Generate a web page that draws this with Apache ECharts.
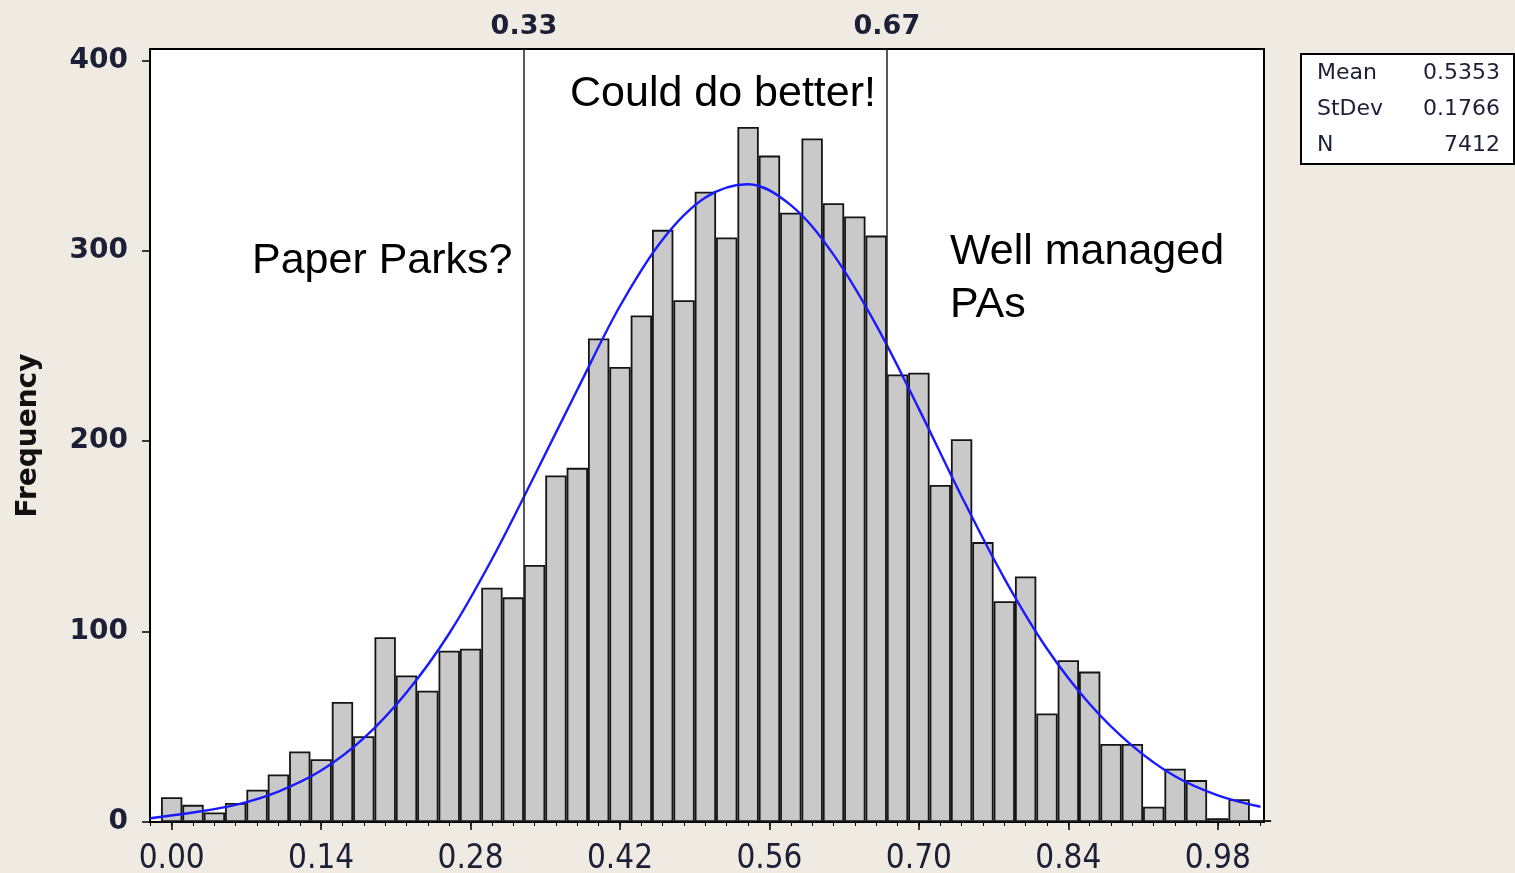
<!DOCTYPE html>
<html>
<head>
<meta charset="utf-8">
<title>Management effectiveness histogram</title>
<script src="https://cdn.jsdelivr.net/npm/echarts@6/dist/echarts.min.js"></script>
<style>
  html, body { margin: 0; padding: 0; background: #efebe3; }
  #chart { width: 1515px; height: 873px; }
</style>
</head>
<body>
<div id="chart"></div>
<script>
/* ---------------- Data ---------------- */
// bin centres (bin width 0.02)
const binCenters = [
  0.00, 0.02, 0.04, 0.06, 0.08, 0.10, 0.12, 0.14, 0.16, 0.18,
  0.20, 0.22, 0.24, 0.26, 0.28, 0.30, 0.32, 0.34, 0.36, 0.38,
  0.40, 0.42, 0.44, 0.46, 0.48, 0.50, 0.52, 0.54, 0.56, 0.58,
  0.60, 0.62, 0.64, 0.66, 0.68, 0.70, 0.72, 0.74, 0.76, 0.78,
  0.80, 0.82, 0.84, 0.86, 0.88, 0.90, 0.92, 0.94, 0.96, 0.98,
  1.00, 1.02
];
const frequencies = [
  13, 9, 5, 10, 17, 25, 37, 33, 63, 45,
  97, 77, 69, 90, 91, 123, 118, 135, 182, 186,
  254, 239, 266, 311, 274, 331, 307, 365, 350, 320,
  359, 325, 318, 308, 235, 236, 177, 201, 147, 116,
  129, 57, 85, 79, 41, 41, 8, 28, 22, 2,
  12, 1
];

// fitted normal curve
const curveX = [
  -0.02, 0.02, 0.06, 0.10, 0.14, 0.18, 0.22, 0.26, 0.30, 0.34,
  0.38, 0.42, 0.46, 0.50, 0.54, 0.58, 0.62, 0.66, 0.70, 0.74,
  0.78, 0.82, 0.86, 0.90, 0.94, 0.98, 1.02
];
const curveY = [
  2, 5, 9, 16, 27, 44, 68, 99, 138, 182,
  227, 271, 306, 328, 335, 324, 298, 261, 217, 171,
  128, 91, 62, 40, 24, 14, 8
];

const bottomTicks = [0.00, 0.14, 0.28, 0.42, 0.56, 0.70, 0.84, 0.98];
const minorTicks = binCenters.concat([-0.02]);
const cutPoints = [0.33, 0.67];
const yTicks = [0, 100, 200, 300, 400];

const stats = [
  ["Mean", "0.5353"],
  ["StDev", "0.1766"],
  ["N", "7412"]
];

/* ---------------- Styles ---------------- */
const X_MIN = -0.0203;
const X_MAX = 1.0233;
const Y_MAX = 406;
const INK = "#1c2036";
const condensed = "'DejaVu Sans Condensed', 'Liberation Sans Narrow', 'DejaVu Sans', sans-serif";
const sans = "'DejaVu Sans', Verdana, sans-serif";
const arial = "'Liberation Sans', Arial, sans-serif";

const chart = echarts.init(document.getElementById("chart"));

const option = {
  backgroundColor: "#efebe3",
  animation: false,
  grid: {
    left: 150,
    right: 251,
    top: 49,
    bottom: 51,
    show: true,
    backgroundColor: "#ffffff",
    borderColor: "#000000",
    borderWidth: 2,
    outerBoundsMode: "none"
  },
  xAxis: [
    {
      type: "value",
      position: "bottom",
      min: X_MIN,
      max: X_MAX,
      axisLine: { show: true, onZero: false, lineStyle: { color: "#000", width: 2 } },
      axisTick: { show: true, length: 8, customValues: bottomTicks, lineStyle: { color: "#000", width: 1.5 } },
      axisLabel: {
        customValues: bottomTicks,
        formatter: v => v.toFixed(2),
        fontFamily: condensed,
        fontSize: 33,
        color: INK,
        margin: 21
      },
      splitLine: { show: false }
    },
    {
      type: "value",
      position: "bottom",
      min: X_MIN,
      max: X_MAX,
      axisLine: { show: false, onZero: false },
      axisTick: { show: true, length: 4, customValues: minorTicks, lineStyle: { color: "#000", width: 1 } },
      axisLabel: { show: false },
      splitLine: { show: false }
    },
    {
      type: "value",
      position: "top",
      min: X_MIN,
      max: X_MAX,
      axisLine: { show: false, onZero: false },
      axisTick: { show: false },
      axisLabel: {
        customValues: cutPoints,
        formatter: v => v.toFixed(2),
        fontFamily: sans,
        fontWeight: "bold",
        fontSize: 27,
        color: INK,
        margin: 9
      },
      splitLine: { show: false }
    }
  ],
  yAxis: {
    type: "value",
    min: 0,
    max: Y_MAX,
    name: "Frequency",
    nameLocation: "middle",
    nameRotate: 90,
    nameGap: 107,
    nameTextStyle: { fontFamily: sans, fontWeight: "bold", fontSize: 28, color: "#111" },
    axisLine: { show: true, onZero: false, lineStyle: { color: "#000", width: 2 } },
    axisTick: { show: true, length: 8, customValues: yTicks, lineStyle: { color: "#000", width: 1.5 } },
    axisLabel: {
      customValues: yTicks,
      fontFamily: sans,
      fontWeight: "bold",
      fontSize: 28,
      color: INK,
      margin: 22
    },
    splitLine: { show: false }
  },
  series: [
    {
      type: "bar",
      xAxisIndex: 0,
      data: binCenters.map((x, i) => [x, frequencies[i]]),
      barWidth: 21.35,
      clip: true,
      itemStyle: { color: "#c9c9c9", borderColor: "#151515", borderWidth: 1.8 },
      markLine: {
        silent: true,
        symbol: "none",
        label: { show: false },
        lineStyle: { color: "#222", width: 1.5, type: "solid" },
        data: cutPoints.map(v => ({ xAxis: v }))
      },
      z: 2
    },
    {
      type: "line",
      xAxisIndex: 0,
      data: curveX.map((x, i) => [x, curveY[i]]),
      smooth: 0.35,
      showSymbol: false,
      clip: true,
      lineStyle: { color: "#1a1aff", width: 2.4 },
      z: 3
    }
  ],
  graphic: [
    {
      type: "text",
      left: 570, top: 73,
      style: { text: "Could do better!", font: "43px " + arial, fill: "#000" }
    },
    {
      type: "text",
      left: 252, top: 240,
      style: { text: "Paper Parks?", font: "43px " + arial, fill: "#000" }
    },
    {
      type: "text",
      left: 950, top: 226,
      style: { text: "Well managed\nPAs", font: "43px " + arial, fill: "#000", lineHeight: 53 }
    },
    {
      type: "group",
      left: 1300,
      top: 53,
      children: [
        {
          type: "rect",
          shape: { x: 0, y: 0, width: 213, height: 110 },
          style: { fill: "#fff", stroke: "#000", lineWidth: 2 }
        }
      ].concat(stats.flatMap((row, i) => [
        {
          type: "text",
          x: 16, y: 19 + i * 36,
          style: { text: row[0], font: "22px " + sans, fill: INK, verticalAlign: "middle" }
        },
        {
          type: "text",
          x: 199, y: 19 + i * 36,
          style: { text: row[1], font: "22px " + sans, fill: INK, align: "right", verticalAlign: "middle" }
        }
      ]))
    }
  ]
};

chart.setOption(option);
window.addEventListener("resize", () => chart.resize());
</script>
</body>
</html>
